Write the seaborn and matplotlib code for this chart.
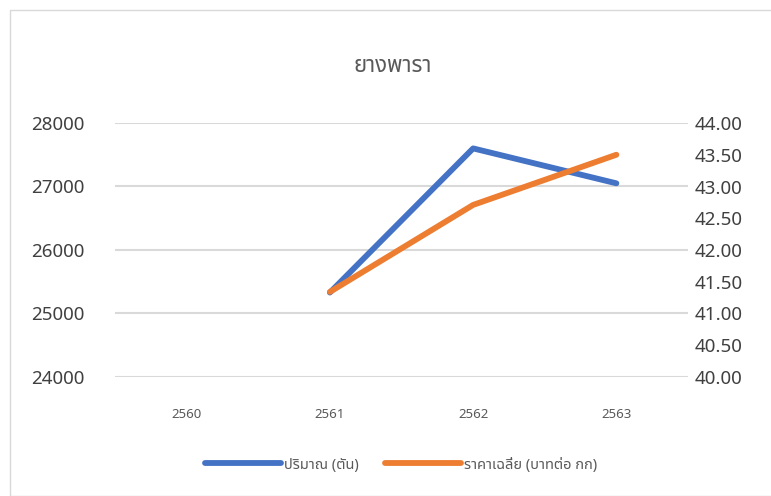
import numpy as np
import pandas as pd
import seaborn as sns
import matplotlib.pyplot as plt
from matplotlib.patches import Rectangle

years = ['2560', '2561', '2562', '2563']
qty = [np.nan, 25330, 27600, 27050]       # ปริมาณ (ตัน)
price = [np.nan, 41.34, 42.71, 43.50]     # ราคาเฉลี่ย (บาทต่อ กก)
left_ticks = [24000, 25000, 26000, 27000, 28000]
right_ticks = [40.0, 40.5, 41.0, 41.5, 42.0, 42.5, 43.0, 43.5, 44.0]

sns.set_style('white')
plt.rcParams['font.family'] = ['Noto Sans Thai', 'Tahoma', 'Leelawadee UI', 'Garuda',
                               'Loma', 'Noto Sans', 'DejaVu Sans']

df = pd.DataFrame({'pos': range(len(years)), 'qty': qty, 'price': price})

fig = plt.figure(figsize=(7.71, 4.96), dpi=100)
ax = fig.add_axes([115 / 771, 1 - 377 / 496, (688 - 115) / 771, (377 - 123) / 496])
ax2 = ax.twinx()

sns.lineplot(ax=ax, data=df, x='pos', y='qty', color='#4472C4', linewidth=4.2,
             solid_capstyle='round', label='ปริมาณ (ตัน)', legend=False)
sns.lineplot(ax=ax2, data=df, x='pos', y='price', color='#ED7D31', linewidth=4.2,
             solid_capstyle='round', label='ราคาเฉลี่ย (บาทต่อ กก)', legend=False)

ax.set_xlim(-0.5, 3.5)
ax.set_ylim(24000, 28000)
ax2.set_ylim(40, 44)
ax.set_yticks(left_ticks)
ax.set_yticklabels([str(t) for t in left_ticks])
ax2.set_yticks(right_ticks)
ax2.set_yticklabels(['%.2f' % t for t in right_ticks])
ax.set_xticks(range(len(years)))
ax.set_xticklabels(years)
ax.grid(axis='y', color='#d9d9d9', linewidth=1.5)
ax.set_axisbelow(True)
for a in (ax, ax2):
    for s in a.spines.values():
        s.set_visible(False)
    a.set_xlabel('')
    a.set_ylabel('')
ax.tick_params(axis='y', labelsize=13.5, colors='#404040', length=0, pad=22)
ax2.tick_params(axis='y', labelsize=13.5, colors='#404040', length=0, pad=5)
ax.tick_params(axis='x', labelsize=9.5, colors='#595959', length=0, pad=22)

fig.text(393 / 771, 1 - 66 / 496, 'ยางพารา', ha='center', va='center',
         fontsize=16, color='#595959')

h1, l1 = ax.get_legend_handles_labels()
h2, l2 = ax2.get_legend_handles_labels()
fig.legend(h1 + h2, l1 + l2, loc='center', bbox_to_anchor=(401 / 771, 1 - 465 / 496),
           ncol=2, frameon=False, fontsize=10.5, labelcolor='#595959',
           handlelength=5.2, handletextpad=0.2, columnspacing=1.8)

fig.patches.append(Rectangle((10 / 771, 0), 1, 1 - 10 / 496, transform=fig.transFigure,
                             fill=False, edgecolor='#d9d9d9', linewidth=1))

fig.savefig('out.png', dpi=100)
